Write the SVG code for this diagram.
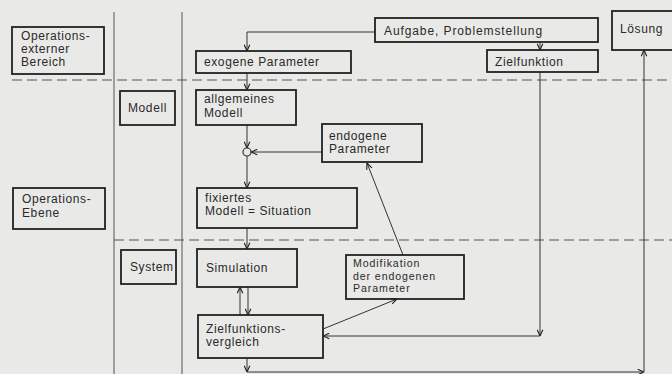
<svg xmlns="http://www.w3.org/2000/svg" width="672" height="374" viewBox="0 0 672 374">
<defs>
<style>
.box{fill:none;stroke:#222;stroke-width:1.8}
.lane{stroke:#555;stroke-width:1;fill:none}
.dash{stroke:#555;stroke-width:1.2;stroke-dasharray:10 5;fill:none}
.con{stroke:#333;stroke-width:1;fill:none}
.arr{stroke:#333;stroke-width:1;fill:none;marker-end:url(#ah)}
text{font-family:"Liberation Sans",Arial,sans-serif;font-size:12px;fill:#2a2a2a;letter-spacing:0.6px}
.sm{font-size:10.6px;letter-spacing:0.9px}
</style>
<marker id="ah" viewBox="0 0 10 10" refX="10" refY="5" markerWidth="7" markerHeight="7" markerUnits="userSpaceOnUse" orient="auto">
<path d="M1,1 L10,5 L1,9" fill="none" stroke="#222" stroke-width="1.6"/>
</marker>
</defs>
<rect width="672" height="374" fill="#e9e9e7"/>
<g id="lanes">
<line class="lane" x1="114" y1="12" x2="114" y2="374"/>
<line class="lane" x1="182" y1="12" x2="182" y2="374"/>
<line class="dash" x1="12" y1="80" x2="672" y2="80"/>
<line class="dash" x1="114" y1="240" x2="672" y2="240"/>
</g>
<g id="connectors">
<path class="arr" d="M375,32 H247 V51"/>
<path class="arr" d="M540,42 V50"/>
<path class="arr" d="M247,73 V90"/>
<path class="arr" d="M247,125 V148"/>
<circle cx="247" cy="152" r="4" fill="none" stroke="#333" stroke-width="1.2"/>
<path class="arr" d="M322,152 H251"/>
<path class="arr" d="M247,156 V188"/>
<path class="arr" d="M247,228 V249"/>
<path class="arr" d="M240,315 V287"/>
<path class="arr" d="M248,287 V315"/>
<path class="arr" d="M323,329 L397,299"/>
<path class="arr" d="M403,255 L367,163"/>
<path class="arr" d="M540,72 V336"/>
<path class="arr" d="M540,336 H323"/>
<path class="arr" d="M247,358 V372"/>
<path class="arr" d="M247,372 H644"/>
<path class="arr" d="M644,372 V50"/>
</g>
<g id="n-extern"><rect class="box" x="12" y="27" width="92" height="47"/><text x="21" y="40">Operations-</text><text x="21" y="53">externer</text><text x="21" y="66">Bereich</text></g>
<g id="n-exogen"><rect class="box" x="196" y="51" width="155" height="22"/><text x="204" y="66">exogene Parameter</text></g>
<g id="n-aufgabe"><rect class="box" x="375" y="18" width="223" height="24"/><text x="384" y="35" style="letter-spacing:0.9px">Aufgabe, Problemstellung</text></g>
<g id="n-zielfunktion"><rect class="box" x="487" y="50" width="111" height="22"/><text x="495" y="66">Zielfunktion</text></g>
<g id="n-loesung"><rect class="box" x="612" y="11" width="70" height="39"/><text x="620" y="33">Lösung</text></g>
<g id="n-modell"><rect class="box" x="120" y="91" width="55" height="34"/><text x="128" y="112">Modell</text></g>
<g id="n-allgemein"><rect class="box" x="196" y="90" width="100" height="35"/><text x="204" y="103">allgemeines</text><text x="204" y="117">Modell</text></g>
<g id="n-endogen"><rect class="box" x="322" y="124" width="100" height="38"/><text x="329" y="140">endogene</text><text x="329" y="153">Parameter</text></g>
<g id="n-ebene"><rect class="box" x="13" y="188" width="92" height="41"/><text x="22" y="203">Operations-</text><text x="22" y="217">Ebene</text></g>
<g id="n-fixiert"><rect class="box" x="197" y="188" width="160" height="40"/><text x="205" y="202">fixiertes</text><text x="205" y="215">Modell = Situation</text></g>
<g id="n-system"><rect class="box" x="121" y="250" width="55" height="34"/><text x="130" y="271">System</text></g>
<g id="n-simulation"><rect class="box" x="197" y="249" width="100" height="38"/><text x="206" y="272">Simulation</text></g>
<g id="n-vergleich"><rect class="box" x="198" y="315" width="125" height="43"/><text x="206" y="333">Zielfunktions-</text><text x="206" y="346">vergleich</text></g>
<g id="n-modifikation"><rect class="box" x="346" y="255" width="118" height="44"/><text class="sm" x="353" y="267">Modifikation</text><text class="sm" x="353" y="279.5">der endogenen</text><text class="sm" x="353" y="292">Parameter</text></g>
</svg>
